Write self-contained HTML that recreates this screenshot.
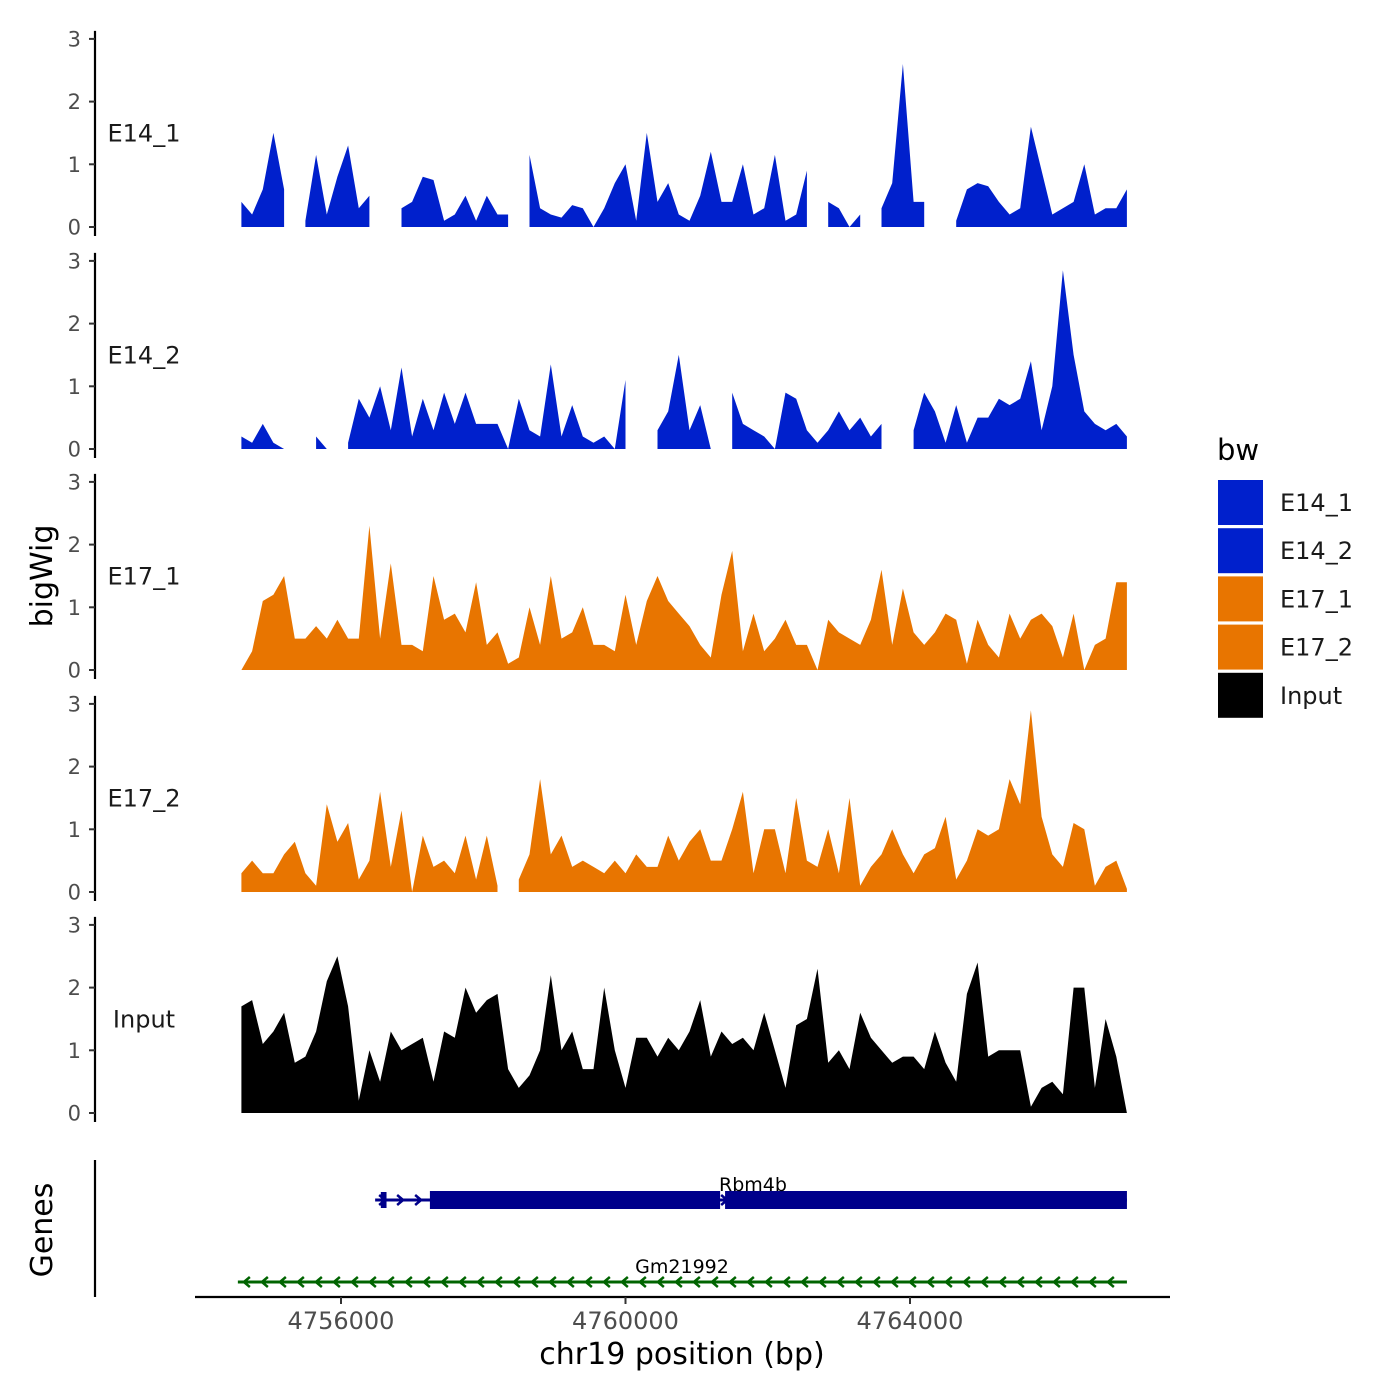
<!DOCTYPE html>
<html><head><meta charset="utf-8">
<style>
html,body{margin:0;padding:0;background:#fff;}
svg{display:block;font-family:"DejaVu Sans","Liberation Sans",sans-serif;}
</style></head>
<body>
<svg id="chart" width="1400" height="1400" viewBox="0 0 1400 1400" xmlns="http://www.w3.org/2000/svg">
<rect width="1400" height="1400" fill="#fff"/>
<g id="tracks"></g>
<g id="genes"></g>
<g id="xaxis"></g>
<g id="legend"></g>
</svg>
<script>
const NS="http://www.w3.org/2000/svg";
// shared genomic positions (bp), 150bp grid
const gridStart=4754600, gridStep=150, gridCount=84;
const trackNames=["E14_1","E14_2","E17_1","E17_2","Input"];
const trackColors=["#0020CC","#0020CC","#E87500","#E87500","#000000"];
const e14_1=[0.4,0.2,0.6,1.5,0.6,null,0.1,1.15,0.2,0.8,1.3,0.3,0.5,null,null,0.3,0.4,0.8,0.75,0.1,0.2,0.5,0.1,0.5,0.2,0.2,null,1.15,0.3,0.2,0.15,0.35,0.3,0.0,0.3,0.7,1.0,0.1,1.5,0.4,0.7,0.2,0.1,0.5,1.2,0.4,0.4,1.0,0.2,0.3,1.15,0.1,0.2,0.9,null,0.4,0.3,0.0,0.2,null,0.3,0.7,2.6,0.4,0.4,null,null,0.1,0.6,0.7,0.65,0.4,0.2,0.3,1.6,0.9,0.2,0.3,0.4,1.0,0.2,0.3,0.3,0.6];
const e14_2=[0.2,0.1,0.4,0.1,0.0,null,null,0.2,0.0,null,0.1,0.8,0.5,1.0,0.3,1.3,0.2,0.8,0.3,0.9,0.4,0.9,0.4,0.4,0.4,0.0,0.8,0.3,0.2,1.35,0.2,0.7,0.2,0.1,0.2,0.0,1.1,null,null,0.3,0.6,1.5,0.3,0.7,0.0,null,0.9,0.4,0.3,0.2,0.0,0.9,0.8,0.3,0.1,0.3,0.6,0.3,0.5,0.2,0.4,null,null,0.3,0.9,0.6,0.1,0.7,0.1,0.5,0.5,0.8,0.7,0.8,1.4,0.3,1.0,2.85,1.5,0.6,0.4,0.3,0.4,0.2];
const e17_1=[0.0,0.3,1.1,1.2,1.5,0.5,0.5,0.7,0.5,0.8,0.5,0.5,2.3,0.5,1.7,0.4,0.4,0.3,1.5,0.8,0.9,0.6,1.4,0.4,0.6,0.1,0.2,1.0,0.4,1.5,0.5,0.6,1.0,0.4,0.4,0.3,1.2,0.4,1.1,1.5,1.1,0.9,0.7,0.4,0.2,1.2,1.9,0.3,0.9,0.3,0.5,0.8,0.4,0.4,0.0,0.8,0.6,0.5,0.4,0.8,1.6,0.4,1.3,0.6,0.4,0.6,0.9,0.8,0.1,0.8,0.4,0.2,0.9,0.5,0.8,0.9,0.7,0.2,0.9,0.0,0.4,0.5,1.4,1.4];
const e17_2=[0.3,0.5,0.3,0.3,0.6,0.8,0.3,0.1,1.4,0.8,1.1,0.2,0.5,1.6,0.4,1.3,0.0,0.9,0.4,0.5,0.3,0.9,0.2,0.9,0.1,null,0.2,0.6,1.8,0.6,0.9,0.4,0.5,0.4,0.3,0.5,0.3,0.6,0.4,0.4,0.9,0.5,0.8,1.0,0.5,0.5,1.0,1.6,0.3,1.0,1.0,0.3,1.5,0.5,0.4,1.0,0.3,1.5,0.1,0.4,0.6,1.0,0.6,0.3,0.6,0.7,1.2,0.2,0.5,1.0,0.9,1.0,1.8,1.4,2.9,1.2,0.6,0.4,1.1,1.0,0.1,0.4,0.5,0.05];
const input=[1.7,1.8,1.1,1.3,1.6,0.8,0.9,1.3,2.1,2.5,1.7,0.2,1.0,0.5,1.3,1.0,1.1,1.2,0.5,1.3,1.2,2.0,1.6,1.8,1.9,0.7,0.4,0.6,1.0,2.2,1.0,1.3,0.7,0.7,2.0,1.0,0.4,1.2,1.2,0.9,1.2,1.0,1.3,1.8,0.9,1.3,1.1,1.2,1.0,1.6,1.0,0.4,1.4,1.5,2.3,0.8,1.0,0.7,1.6,1.2,1.0,0.8,0.9,0.9,0.7,1.3,0.8,0.5,1.9,2.4,0.9,1.0,1.0,1.0,0.1,0.4,0.5,0.3,2.0,2.0,0.4,1.5,0.9,0.0];
const trackValues=[e14_1,e14_2,e17_1,e17_2,input];
const yTicks=[0,1,2,3];
const xTicks=[4756000,4760000,4764000];
const xTickLabels=["4756000","4760000","4764000"];
// genes
const geneNames=["Rbm4b","Gm21992"];
const geneStarts=[4756480,4754550];
const geneEnds=[4767050,4767050];
const geneStrands=["+","-"];
const rbmExonStarts=[4756560,4757250,4761400];
const rbmExonEnds=[4756640,4761330,4767050];

const X=bp=>341+(bp-4756000)*(284.5/4000);
const panelZero=[227,449,670,892,1113];
const unit=62.7;
function mk(tag,attrs,parent){const e=document.createElementNS(NS,tag);for(const k in attrs)e.setAttribute(k,attrs[k]);parent.appendChild(e);return e;}
const tracks=document.getElementById('tracks');
trackNames.forEach((name,ti)=>{
  const y0=panelZero[ti];const Y=v=>y0-v*unit;
  const g=mk('g',{},tracks);
  
  
  const ax=mk('line',{x1:95,x2:95,y1:Y(3)-8,y2:y0+9,stroke:'#000','stroke-width':2.2},g);
  
  yTicks.forEach(t=>{
    const tk=mk('line',{x1:89,x2:95,y1:Y(t),y2:Y(t),stroke:'#333','stroke-width':2},g);
    
    const tl=mk('text',{x:81,y:Y(t)+7.5,'text-anchor':'end','font-size':21,fill:'#4d4d4d'},g);
    tl.textContent=t;
  });
  const lab=mk('text',{x:144,y:Y(1.5)+8.5,'text-anchor':'middle','font-size':24,fill:'#1a1a1a'},g);
  lab.textContent=name;
  const vals=trackValues[ti];let seg=[];
  const flush=()=>{
    if(seg.length>0){
      let d=`M${X(seg[0][0]).toFixed(1)},${y0}`;
      seg.forEach(p=>d+=`L${X(p[0]).toFixed(1)},${Y(p[1]).toFixed(1)}`);
      d+=`L${X(seg[seg.length-1][0]).toFixed(1)},${y0}Z`;
      const a=mk('path',{d:d,fill:trackColors[ti]},g);
      
    }seg=[];};
  for(let i=0;i<gridCount;i++){const v=vals[i];if(v===null||v===undefined){flush();}else seg.push([gridStart+i*gridStep,v]);}
  flush();
});
const bw=mk('text',{x:0,y:0,transform:'translate(52,576) rotate(-90)','text-anchor':'middle','font-size':30,fill:'#000'},tracks);
bw.textContent='bigWig';

// genes
const gG=document.getElementById('genes');
const gl=mk('line',{x1:95,x2:95,y1:1160,y2:1297,stroke:'#000','stroke-width':2.2},gG);

const gt=mk('text',{x:0,y:0,transform:'translate(52,1230) rotate(-90)','text-anchor':'middle','font-size':30,fill:'#000'},gG);
gt.textContent='Genes';
const geneY=[1200,1282];const geneCol=["#00008B","#006400"];
geneNames.forEach((n,gi)=>{
  const g=mk('g',{},gG);
  
  
  const y=geneY[gi],c=geneCol[gi],x1=X(geneStarts[gi]),x2=X(geneEnds[gi]);
  mk('line',{x1:x1,x2:x2,y1:y,y2:y,stroke:c,'stroke-width':3},g);
  const step=18;
  for(let x=x1+8;x<x2-4;x+=step){
    const dir=geneStrands[gi]==='+'?1:-1;
    mk('polyline',{points:`${x-4*dir},${y-5} ${x+2*dir},${y} ${x-4*dir},${y+5}`,fill:'none',stroke:c,'stroke-width':2.5},g);
  }
  if(gi===0){
    rbmExonStarts.forEach((s,k)=>{
      const a=X(s),b=X(rbmExonEnds[k]);const h=k===0?16:18;
      mk('rect',{x:a,y:y-h/2,width:Math.max(b-a,4),height:h,fill:c},g);
    });
  }
  const t=mk('text',{x:gi===0?753:682,y:y-9,'text-anchor':'middle','font-size':19,fill:'#000'},g);
  t.textContent=n;
});

// x axis
const xa=document.getElementById('xaxis');
const xl=mk('line',{x1:195,x2:1170,y1:1297,y2:1297,stroke:'#000','stroke-width':2.2},xa);

xTicks.forEach((t,i)=>{
  const tk=mk('line',{x1:X(t),x2:X(t),y1:1297,y2:1304,stroke:'#333','stroke-width':2},xa);
  
  const tl=mk('text',{x:X(t),y:1329,'text-anchor':'middle','font-size':24,fill:'#4d4d4d'},xa);
  tl.textContent=xTickLabels[i];
});
const xt=mk('text',{x:682,y:1364,'text-anchor':'middle','font-size':30,fill:'#000'},xa);
xt.textContent='chr19 position (bp)';

// legend
const lg=document.getElementById('legend');
const lt=mk('text',{x:1217,y:460,'font-size':29,fill:'#000'},lg);
lt.textContent='bw';
trackNames.forEach((n,i)=>{
  const g=mk('g',{},lg);
  
  
  const y=480+i*48.2;
  mk('rect',{x:1218,y:y,width:45,height:45,fill:trackColors[i]},g);
  const t=mk('text',{x:1280,y:y+31,'font-size':24,fill:'#1a1a1a'},g);
  t.textContent=n;
});
</script>
</body></html>
